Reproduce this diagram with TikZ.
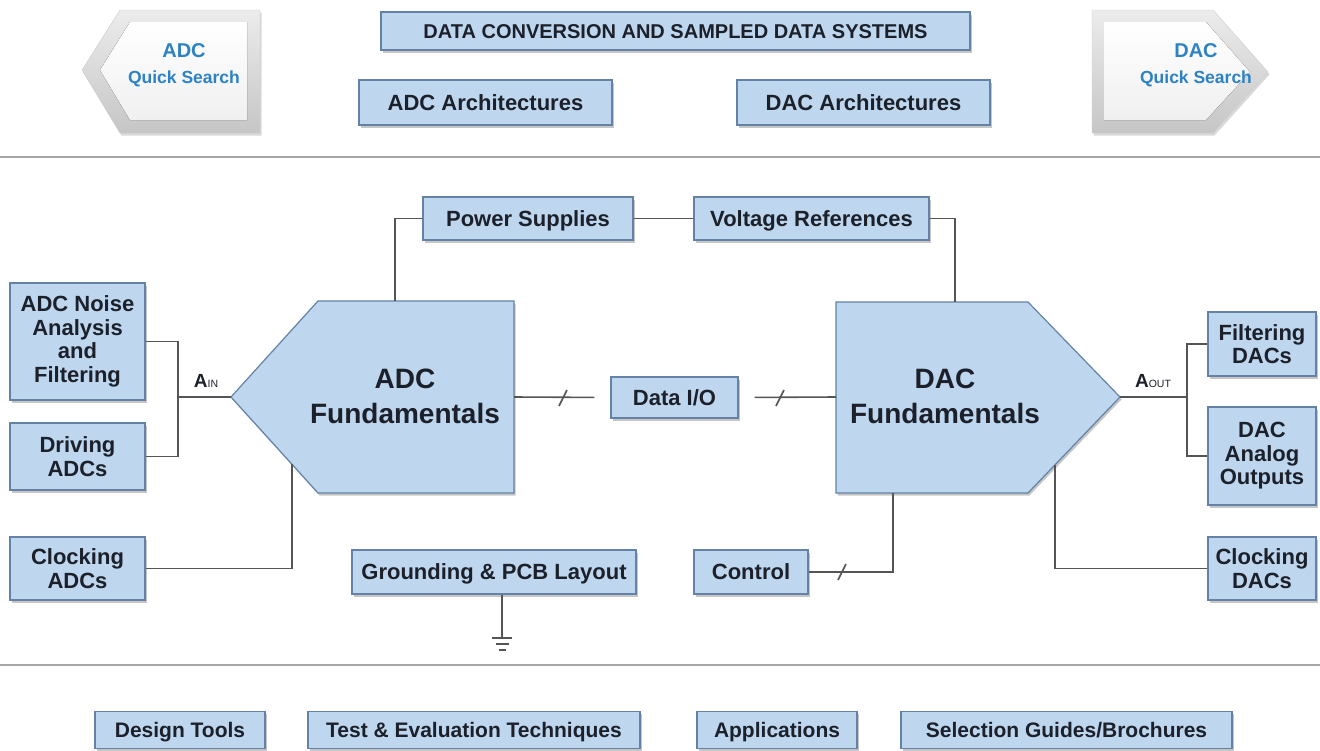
\documentclass[tikz,border=0pt]{standalone}
\usepackage{fontspec}
\setmainfont{Liberation Sans}
\usetikzlibrary{shadows,calc}
\definecolor{boxfill}{RGB}{190,215,238}
\definecolor{boxedge}{RGB}{100,130,165}
\definecolor{ink}{RGB}{28,32,42}
\definecolor{wire}{RGB}{85,85,85}
\definecolor{qsblue}{RGB}{45,130,195}
\tikzset{
  block/.style={draw=boxedge, fill=boxfill, line width=1.2pt, inner sep=0pt,
    drop shadow={shadow xshift=1.5pt, shadow yshift=-2.5pt, opacity=0.45},
    text=ink, align=center, font=\fontsize{22}{23.5}\selectfont\bfseries},
  oneline/.style={text height=17pt, text depth=2pt},
  bigtext/.style={text=ink, align=center, font=\fontsize{28}{35}\selectfont\bfseries},
  qstext/.style={text=qsblue, align=center, font=\fontsize{20}{26}\selectfont\bfseries},
  wire/.style={draw=wire, line width=1.6pt},
  rule/.style={draw=gray!70, line width=1.8pt},
  qsouter/.style={top color=gray!15, bottom color=gray!45, draw=gray!40,
    drop shadow={shadow xshift=1.5pt, shadow yshift=-2.5pt, opacity=0.3}},
  qsinner/.style={top color=white, bottom color=gray!12},
}
\begin{document}
\begin{tikzpicture}[x=1pt,y=-1pt]
\useasboundingbox (0,0) rectangle (1320,750);
% Quick search arrows
\draw[qsouter] (82,70) -- (120,10) -- (260,10) -- (260,133) -- (120,133) -- cycle;
\fill[qsinner] (100,70) -- (130,22) -- (247,22) -- (247,120) -- (130,120) -- cycle;
\node[qstext] (adcqs) at (184,65) {ADC\\{\fontsize{17.5}{21}\selectfont Quick Search}};
\draw[qsouter] (1092,10) -- (1213,10) -- (1268,72) -- (1213,133) -- (1092,133) -- cycle;
\fill[qsinner] (1104,22) -- (1206,22) -- (1250,72) -- (1206,120) -- (1104,120) -- cycle;
\node[qstext] (dacqs) at (1196,65) {DAC\\{\fontsize{17.5}{21}\selectfont Quick Search}};
% Top row
\node[block, oneline, minimum width=589, minimum height=38, font=\fontsize{20}{22}\selectfont\bfseries]
  (title) at (675.5,31) {DATA CONVERSION AND SAMPLED DATA SYSTEMS};
\node[block, oneline, minimum width=253, minimum height=45] (adcarch) at (485.5,102.5) {ADC Architectures};
\node[block, oneline, minimum width=253, minimum height=45] (dacarch) at (863.5,102.5) {DAC Architectures};
% Separators
\draw[rule] (0,157) -- (1320,157);
\draw[rule] (0,665) -- (1320,665);
% Converter bodies
\coordinate (adctip) at (231,397);
\coordinate (adcright) at (514,397);
\coordinate (adctop) at (395,301);
\coordinate (adcfoot) at (292,464);
\coordinate (dactip) at (1120,397);
\coordinate (dacleft) at (836,397);
\coordinate (dactop) at (955,302);
\coordinate (dacfoot) at (893,493);
\coordinate (dacslope) at (1055,465);
\draw[fill=boxfill, draw=boxedge, line width=1.2pt,
  drop shadow={shadow xshift=1.5pt, shadow yshift=-2.5pt, opacity=0.45}]
  (adctip) -- (318,301) -- (514,301) -- (514,493) -- (318,493) -- cycle;
\draw[fill=boxfill, draw=boxedge, line width=1.2pt,
  drop shadow={shadow xshift=1.5pt, shadow yshift=-2.5pt, opacity=0.45}]
  (836,302) -- (1028,302) -- (dactip) -- (1028,493) -- (836,493) -- cycle;
\node[bigtext] (adcfund) at (405,396) {ADC\\Fundamentals};
\node[bigtext] (dacfund) at (945,396) {DAC\\Fundamentals};
% Side blocks
\node[block, oneline, minimum width=210, minimum height=43] (psup) at (528,218.5) {Power Supplies};
\node[block, oneline, minimum width=235, minimum height=43] (vref) at (811.5,218.5) {Voltage References};
\node[block, minimum width=135, minimum height=117] (noise) at (77.5,341.5) {ADC Noise\\Analysis\\and\\Filtering};
\node[block, minimum width=135, minimum height=67] (drive) at (77.5,456.5) {Driving\\ADCs};
\node[block, minimum width=135, minimum height=63] (clkadc) at (77.5,568.5) {Clocking\\ADCs};
\node[block, oneline, minimum width=127, minimum height=41] (dataio) at (674.5,397.5) {Data I/O};
\node[block, oneline, minimum width=284, minimum height=44] (gnd) at (494,572) {Grounding \& PCB Layout};
\node[block, oneline, minimum width=114, minimum height=44] (ctrl) at (751,572) {Control};
\node[block, minimum width=108, minimum height=64] (filt) at (1262,344) {Filtering\\DACs};
\node[block, minimum width=108, minimum height=98] (anout) at (1262,456) {DAC\\Analog\\Outputs};
\node[block, minimum width=108, minimum height=63] (clkdac) at (1262,568.5) {Clocking\\DACs};
% Connections
\draw[wire] (psup.west) -| (adctop);
\draw[wire] (psup) -- (vref);
\draw[wire] (vref.east) -| (dactop);
\coordinate (ajn) at (178,397);
\draw[wire] (adctip) -- (ajn);
\draw[wire] (noise.east) -| (ajn) |- (drive.east);
\node[text=ink] (ainlbl) at (206,381) {\fontsize{19}{20}\selectfont\bfseries A\fontsize{10.5}{12}\selectfont\mdseries IN};
\draw[wire] (clkadc.east) -| (adcfoot);
\draw[wire, shorten >=16pt] (adcright) -- (dataio.west);
\draw[wire, shorten <=16pt] (dataio.east) -- (dacleft);
\draw[wire] (ctrl.east) -| (dacfoot);
\draw[wire] (dacslope) |- (clkdac.west);
\coordinate (ojn) at (1187,397);
\draw[wire] (dactip) -- (ojn);
\draw[wire] (filt.west) -| (ojn) |- (anout.west);
\node[text=ink] (aoutlbl) at (1153,381) {\fontsize{19}{20}\selectfont\bfseries A\fontsize{10.5}{12}\selectfont\mdseries OUT};
% Bus marks
\foreach \p in {(563,398),(780,398),(842,572)}
  \draw[wire] \p ++(-4,8) -- ++(8,-16);
% Ground
\coordinate (earth) at (502,638);
\draw[wire] ([xshift=8pt]gnd.south) -- (earth);
\foreach \w/\d in {10/0,6.5/6,3.5/12}
  \draw[wire, line width=1.3pt] ($(earth)+(-\w,\d)$) -- ($(earth)+(\w,\d)$);
% Bottom row
\foreach \n/\x/\w/\t in {design/180/170/{Design Tools}, test/474/332/{Test \& Evaluation Techniques},
  apps/777/160/{Applications}, guides/1066.5/331/{Selection Guides/Brochures}}
  \node[block, oneline, minimum width=\w, minimum height=37, font=\fontsize{21}{23}\selectfont\bfseries] (\n) at (\x,730) {\t};
\end{tikzpicture}
\end{document}
